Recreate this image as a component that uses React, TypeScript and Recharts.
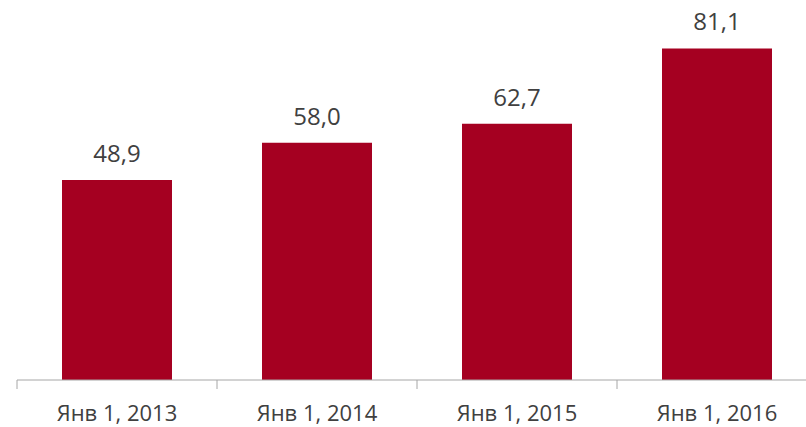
import React from 'react';
import { BarChart, Bar, XAxis, YAxis, LabelList } from 'recharts';

const categories = ['Янв 1, 2013', 'Янв 1, 2014', 'Янв 1, 2015', 'Янв 1, 2016'];
const values = [48.9, 58.0, 62.7, 81.1];

const data = categories.map((name, i) => ({ name, value: values[i] }));

const AXIS_GRAY = '#A6A6A6';
const TEXT_COLOR = '#404040';
const FONT = '"Open Sans", "Liberation Sans", sans-serif';

// tick marks sit on category boundaries, label stays centred
const BoundaryTick = (props: any) => {
  const { x, y, payload } = props;
  const half = payload?.offset ?? 100;
  return (
    <g>
      <line x1={x - half} x2={x - half} y1={y} y2={y + 9} stroke={AXIS_GRAY} />
      <text
        x={x}
        y={y + 41}
        textAnchor="middle"
        fill={TEXT_COLOR}
        fontSize={22}
        fontFamily={FONT}
      >
        {payload.value}
      </text>
    </g>
  );
};

const formatValue = (v: number) => v.toFixed(1).replace('.', ',');

export default function App() {
  return (
    <div
      style={{
        position: 'absolute',
        left: 0,
        top: 0,
        width: 806,
        height: 427,
        overflow: 'hidden',
        background: '#fff',
      }}
    >
      <BarChart
        width={830}
        height={427}
        data={data}
        margin={{ top: 12, right: 13, left: 17, bottom: 0 }}
        barCategoryGap="22.5%"
      >
        <YAxis hide domain={[0, 90]} />
        <XAxis
          dataKey="name"
          height={47}
          tickSize={0}
          tickMargin={0}
          tickLine={false}
          axisLine={{ stroke: AXIS_GRAY }}
          tick={<BoundaryTick />}
          interval={0}
        />
        <Bar dataKey="value" fill="#A50021" isAnimationActive={false}>
          <LabelList
            dataKey="value"
            position="top"
            offset={18}
            formatter={(v: any) => formatValue(Number(v))}
            fill={TEXT_COLOR}
            fontSize={24}
            fontFamily={FONT}
          />
        </Bar>
      </BarChart>
    </div>
  );
}
